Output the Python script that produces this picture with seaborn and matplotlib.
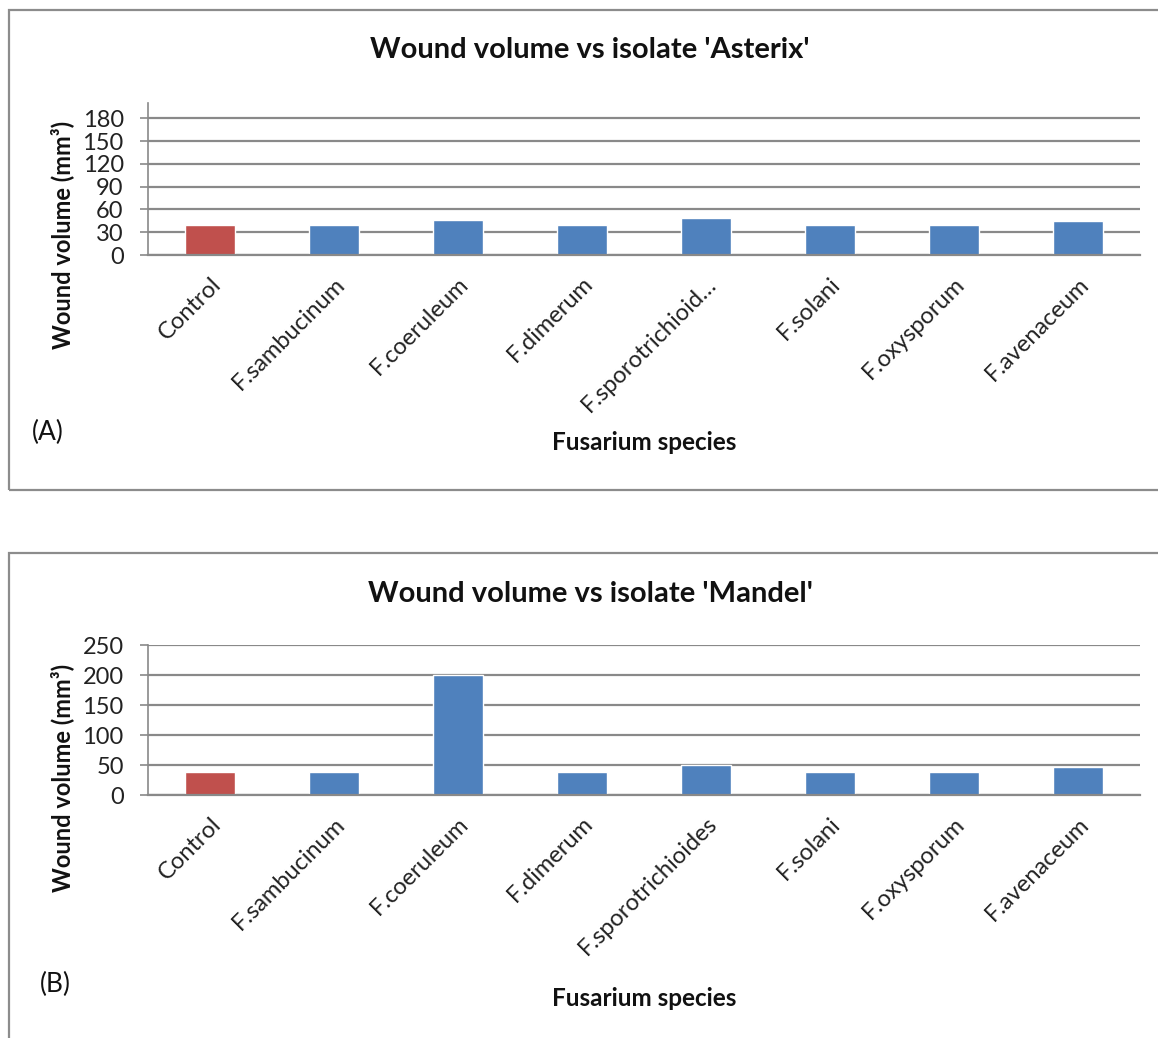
import matplotlib
matplotlib.use("Agg")
import matplotlib.pyplot as plt
from matplotlib.patches import Rectangle
import seaborn as sns
import pandas as pd

sns.set_theme(style="white")
plt.rcParams["font.family"] = ["Lato", "DejaVu Sans"]

species = ["Control", "F.sambucinum", "F.coeruleum", "F.dimerum",
           "F.sporotrichioides", "F.solani", "F.oxysporum", "F.avenaceum"]
labels_a = ["Control", "F.sambucinum", "F.coeruleum", "F.dimerum",
            "F.sporotrichioid…", "F.solani", "F.oxysporum", "F.avenaceum"]
labels_b = species
volume_asterix = [40, 39, 46.5, 39, 49, 39, 39, 44.5]
volume_mandel = [39, 38, 200, 38, 50, 38, 38, 46]
ticks_a = [0, 30, 60, 90, 120, 150, 180]
ticks_b = [0, 50, 100, 150, 200, 250]

RED = "#C0504D"
BLUE = "#4F81BD"
GREY = "#898989"
colors = [RED] + [BLUE] * (len(species) - 1)

W, H = 1158, 1038
fig = plt.figure(figsize=(W / 100, H / 100), dpi=100)


def fx(x):
    return x / W


def fy(y):
    return 1 - y / H


def panel(top_px, bottom_px, values, ticks, ylim, labels, title,
          title_y, ylab_y, tag, tag_xy, xlab_y, box):
    ax = fig.add_axes([fx(148), fy(bottom_px), fx(1140) - fx(148),
                       fy(top_px) - fy(bottom_px)])
    df = pd.DataFrame({"species": species, "volume": values})
    sns.barplot(data=df, x="species", y="volume", hue="species",
                palette=colors, legend=False, width=0.4, ax=ax,
                saturation=1)
    ax.set_ylim(*ylim)
    ax.set_xlim(-0.5, len(species) - 0.5)
    ax.set_yticks(ticks)
    ax.set_yticklabels([str(t) for t in ticks], fontsize=17, color="#222222")
    for t in ticks:
        ax.axhline(t, color=GREY, lw=1.6, zorder=0)
    ax.set_xticks(range(len(species)))
    ax.set_xticklabels(labels, rotation=45, ha="right", va="top",
                       rotation_mode="anchor", fontsize=17, color="#222222")
    ax.tick_params(axis="y", which="both", left=True, length=5.5, width=1.2,
                   color=GREY, pad=12)
    ax.tick_params(axis="x", bottom=False, pad=7)
    for s in ["top", "right"]:
        ax.spines[s].set_visible(False)
    ax.spines["left"].set_color(GREY)
    ax.spines["left"].set_linewidth(1.2)
    ax.spines["bottom"].set_color(GREY)
    ax.spines["bottom"].set_linewidth(1.6)
    ax.set_xlabel("")
    ax.set_ylabel("")
    ax.set_facecolor("white")

    fig.text(fx(590), fy(title_y), title, ha="center", va="center",
             fontsize=21, fontweight="bold", color="#111111")
    fig.text(fx(62), fy(ylab_y), "Wound volume (mm³)", ha="center",
             va="center", rotation=90, fontsize=17, fontweight="bold",
             color="#111111")
    fig.text(fx(tag_xy[0]), fy(tag_xy[1]), tag, ha="center", va="center",
             fontsize=19, color="#111111")
    fig.text(fx(644), fy(xlab_y), "Fusarium species", ha="center",
             va="center", fontsize=17.5, fontweight="bold", color="#111111")

    x0, y0, x1, y1 = box
    fig.patches.append(Rectangle((fx(x0), fy(y1)), fx(x1) - fx(x0),
                                 fy(y0) - fy(y1), transform=fig.transFigure,
                                 fill=False, edgecolor="#8C8C8C", lw=1.6))
    return ax


panel(103, 255, volume_asterix, ticks_a, (0, 200), labels_a,
      "Wound volume vs isolate 'Asterix'", 50, 235, "(A)", (48, 432), 442,
      (9, 10, 1170, 490))
panel(645, 795, volume_mandel, ticks_b, (0, 250), labels_b,
      "Wound volume vs isolate 'Mandel'", 594, 778, "(B)", (55, 984), 998,
      (9, 553, 1170, 1060))

fig.savefig("out.png", dpi=100, facecolor="white")
